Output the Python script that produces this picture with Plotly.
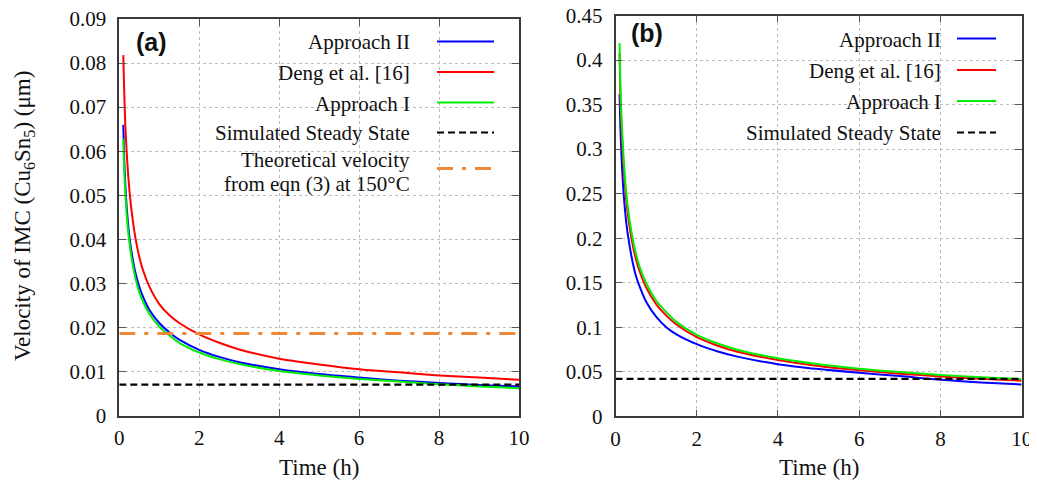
import plotly.graph_objects as go

# ---------------- data ----------------
time_h = [0.1, 0.12, 0.15, 0.2, 0.25, 0.3, 0.4, 0.5, 0.6, 0.75, 1, 1.25, 1.5, 2, 2.5, 3,
          4, 5, 6, 7, 8, 9, 10]

# panel (a)
approach2_a = [0.066, 0.059, 0.0525, 0.0455, 0.0408, 0.0375, 0.0325, 0.0292, 0.0268, 0.0240,
               0.0210, 0.0189, 0.0172, 0.0149, 0.0133, 0.0121, 0.0105, 0.0094, 0.0086, 0.0079,
               0.0074, 0.0069, 0.0066]
deng_a = [0.0818, 0.0745, 0.066, 0.0575, 0.0515, 0.047, 0.0405, 0.036, 0.0328, 0.0293,
          0.0253, 0.0228, 0.0210, 0.0184, 0.0165, 0.0150, 0.0129, 0.0116, 0.0105, 0.0098,
          0.0091, 0.0086, 0.0081]
approach1_a = [0.0628, 0.0565, 0.0505, 0.0438, 0.0395, 0.0362, 0.0313, 0.0280, 0.0257, 0.0231,
               0.0202, 0.0182, 0.0165, 0.0143, 0.0128, 0.0117, 0.0101, 0.0091, 0.0083, 0.0077,
               0.0071, 0.0066, 0.0062]
steady_a = 0.0070
theory_a = 0.0186

# panel (b)
approach2_b = [0.362, 0.325, 0.29, 0.25, 0.224, 0.205, 0.178, 0.158, 0.145, 0.129,
               0.112, 0.100, 0.092, 0.081, 0.073, 0.067, 0.0585, 0.053, 0.0488, 0.0452,
               0.041, 0.038, 0.0357]
deng_b = [0.4075, 0.36, 0.322, 0.28, 0.25, 0.228, 0.198, 0.177, 0.162, 0.145,
          0.126, 0.113, 0.103, 0.0888, 0.0795, 0.0725, 0.0632, 0.0565, 0.0517, 0.0478,
          0.0448, 0.0421, 0.0399]
approach1_b = [0.419, 0.372, 0.333, 0.29, 0.259, 0.236, 0.205, 0.183, 0.167, 0.150,
               0.130, 0.117, 0.106, 0.0915, 0.082, 0.0748, 0.0652, 0.0585, 0.0535, 0.0496,
               0.0465, 0.0438, 0.0416]
steady_b = 0.042

x_range = [0, 10]
x_ticks = [0, 2, 4, 6, 8, 10]
x_ticktext = ["0", "2", "4", "6", "8", "10"]
y_ticks_a = [0, 0.01, 0.02, 0.03, 0.04, 0.05, 0.06, 0.07, 0.08, 0.09]
y_ticktext_a = ["0", "0.01", "0.02", "0.03", "0.04", "0.05", "0.06", "0.07", "0.08", "0.09"]
y_ticks_b = [0, 0.05, 0.1, 0.15, 0.2, 0.25, 0.3, 0.35, 0.4, 0.45]
y_ticktext_b = ["0", "0.05", "0.1", "0.15", "0.2", "0.25", "0.3", "0.35", "0.4", "0.45"]

names = ["Approach II", "Deng et al. [16]", "Approach I", "Simulated Steady State"]
theory_lines = ["Theoretical velocity", "from eqn (3) at 150°C"]

# ---------------- styling ----------------
# The page body keeps its default 8px margin, so the figure is sized to fill the
# 1037x483 window from (8, 8); page pixel positions are converted accordingly.
OFF = 8
W, H = 1037 - OFF, 483 - OFF
SERIF = "Liberation Serif, Times New Roman, serif"
TXT = "#111111"
BLUE, RED, GREEN, BLACK, ORANGE = "#0000ff", "#ff0000", "#00ee00", "#000000", "#ee8836"
LW = 2
DASH_BLACK = "7px,4px"
DASH_ORANGE = "16px,9px,4px,9px"


def px(p):
    return (p - OFF) / W


def py(p):
    return 1 - (p - OFF) / H


fig = go.Figure()

curve_cols = [BLUE, RED, GREEN]
for xa, ya, series, steady in [("x", "y", [approach2_a, deng_a, approach1_a], steady_a),
                                ("x2", "y2", [approach2_b, deng_b, approach1_b], steady_b)]:
    for col, vals, nm in zip(curve_cols, series, names[:3]):
        fig.add_trace(go.Scatter(x=time_h, y=vals, mode="lines", name=nm,
                                 line=dict(color=col, width=LW, shape="spline", smoothing=0.8),
                                 xaxis=xa, yaxis=ya, showlegend=False))
    fig.add_trace(go.Scatter(x=x_range, y=[steady, steady], mode="lines", name=names[3],
                             line=dict(color=BLACK, width=2.2, dash=DASH_BLACK),
                             xaxis=xa, yaxis=ya, showlegend=False))

fig.add_trace(go.Scatter(x=x_range, y=[theory_a, theory_a], mode="lines",
                         name=" ".join(theory_lines),
                         line=dict(color=ORANGE, width=3, dash=DASH_ORANGE),
                         xaxis="x", yaxis="y", showlegend=False))

axis_common = dict(
    showline=True, linecolor="#3a3a3a", linewidth=1.5, mirror="ticks",
    ticks="inside", ticklen=7, tickcolor="#555555", tickwidth=1,
    showgrid=True, gridcolor="#bdbdbd", griddash="dot", gridwidth=1,
    zeroline=False, automargin=False, ticklabeloverflow="allow",
    tickfont=dict(family=SERIF, size=21, color=TXT),
)

fig.update_layout(
    width=W, height=H,
    margin=dict(l=0, r=0, t=0, b=0, autoexpand=False),
    paper_bgcolor="white", plot_bgcolor="white",
    showlegend=False,
    xaxis=dict(domain=[px(119.3), px(519)], range=x_range, tickvals=x_ticks,
               ticktext=x_ticktext, anchor="y", ticklabelstandoff=3, **axis_common),
    yaxis=dict(domain=[py(415.5), py(19)], range=[0, 0.09], tickvals=y_ticks_a,
               ticktext=y_ticktext_a, anchor="x", ticklabelstandoff=7, **axis_common),
    xaxis2=dict(domain=[px(615.5), px(1021.7)], range=x_range, tickvals=x_ticks,
                ticktext=x_ticktext, anchor="y2", ticklabelstandoff=3, **axis_common),
    yaxis2=dict(domain=[py(416.3), py(15.5)], range=[0, 0.45], tickvals=y_ticks_b,
                ticktext=y_ticktext_b, anchor="x2", ticklabelstandoff=7, **axis_common),
)

shapes = []
# white masks hiding the grid behind the key (as gnuplot does)
for x0, y0, x1, y1 in [(183, 21, 508, 120), (200, 120, 508, 186), (231, 186, 508, 197),
                       (681, 17, 1010, 117), (705, 117, 1010, 146)]:
    shapes.append(dict(type="rect", xref="paper", yref="paper", x0=px(x0), x1=px(x1),
                       y0=py(y1), y1=py(y0), fillcolor="white", line=dict(width=0),
                       layer="between"))

annotations = []
cols = [BLUE, RED, GREEN, BLACK]


def key_entry(text_x, s0, s1, yy, nm, col):
    annotations.append(dict(text=nm, x=px(text_x), y=py(yy + 1), xref="paper", yref="paper",
                            xanchor="right", yanchor="middle", showarrow=False,
                            font=dict(family=SERIF, size=21, color=TXT)))
    shapes.append(dict(type="line", xref="paper", yref="paper", x0=px(s0), x1=px(s1),
                       y0=py(yy), y1=py(yy),
                       line=dict(color=col, width=LW if col != BLACK else 2.2,
                                 dash="solid" if col != BLACK else DASH_BLACK)))


# key (a)
for yy, nm, col in zip([41.5, 72, 102.5, 132.5], names, cols):
    key_entry(412, 437, 494, yy, nm, col)
for yy, t in zip([159.5, 183.5], theory_lines):
    annotations.append(dict(text=t, x=px(412), y=py(yy), xref="paper", yref="paper",
                            xanchor="right", yanchor="middle", showarrow=False,
                            font=dict(family=SERIF, size=21, color=TXT)))
shapes.append(dict(type="line", xref="paper", yref="paper", x0=px(437), x1=px(494),
                   y0=py(168.5), y1=py(168.5),
                   line=dict(color=ORANGE, width=3, dash=DASH_ORANGE)))

# key (b)
for yy, nm, col in zip([38, 69.5, 100.5, 132], names, cols):
    key_entry(943, 957, 996, yy + 0.5, nm, col)

# panel labels
for lab, xc, yc in [("<b>(a)</b>", 151, 42), ("<b>(b)</b>", 646.5, 33)]:
    annotations.append(dict(text=lab, x=px(xc), y=py(yc), xref="paper", yref="paper",
                            xanchor="center", yanchor="middle", showarrow=False,
                            font=dict(family="Liberation Sans, Arial, sans-serif", size=25,
                                      color=TXT)))

# axis titles
for xc in [319, 818.5]:
    annotations.append(dict(text="Time (h)", x=px(xc), y=py(467), xref="paper", yref="paper",
                            xanchor="center", yanchor="middle", showarrow=False,
                            font=dict(family=SERIF, size=23, color=TXT)))
annotations.append(dict(text="Velocity of IMC (Cu<sub>6</sub>Sn<sub>5</sub>) (μm)",
                        x=px(24), y=py(216), xref="paper", yref="paper",
                        xanchor="center", yanchor="middle", showarrow=False, textangle=-90,
                        font=dict(family=SERIF, size=23, color=TXT)))

fig.update_layout(shapes=shapes, annotations=annotations)
fig.write_html("out.html")
